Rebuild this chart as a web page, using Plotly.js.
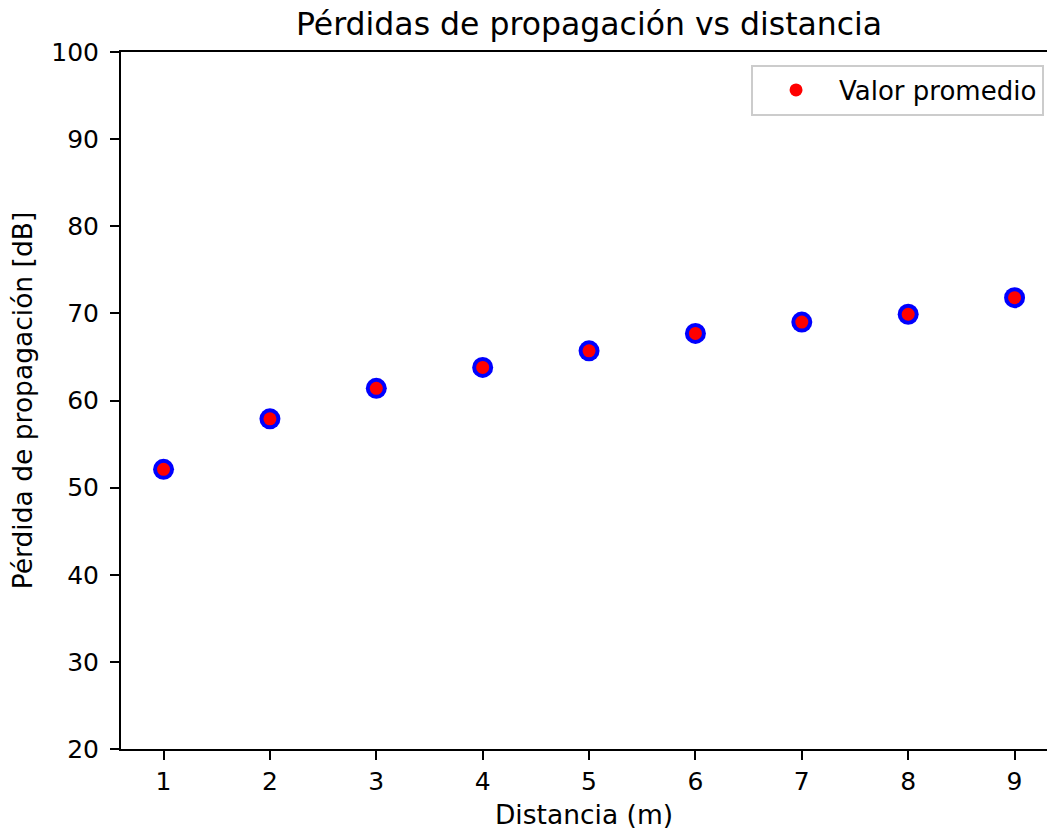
<!DOCTYPE html>
<html>
<head>
<meta charset="utf-8">
<script src="https://cdn.plot.ly/plotly-3.0.1.min.js"></script>
<style>
  html, body { margin: 0; padding: 0; background: #fff; overflow: hidden; }
  #chart { width: 1047px; height: 834px; }
</style>
</head>
<body>
<div id="chart"></div>
<script>
// Data
const distancia = [1, 2, 3, 4, 5, 6, 7, 8, 9];
const perdida = [52.1, 57.9, 61.4, 63.8, 65.7, 67.7, 69.0, 69.9, 71.8];
const xTicks = [1, 2, 3, 4, 5, 6, 7, 8, 9];
const yTicks = [20, 30, 40, 50, 60, 70, 80, 90, 100];

const chartTitle = 'Pérdidas de propagación vs distancia';
const xLabel = 'Distancia (m)';
const yLabel = 'Pérdida de propagación [dB]';
const legendLabel = 'Valor promedio';

const FONT = 'DejaVu Sans, Verdana, sans-serif';

const traces = [
  {
    x: distancia, y: perdida, type: 'scatter', mode: 'markers',
    marker: { color: 'blue', size: 21 },
    showlegend: false, hoverinfo: 'skip'
  },
  {
    x: distancia, y: perdida, type: 'scatter', mode: 'markers',
    name: legendLabel,
    marker: { color: 'red', size: 13 }
  }
];

const layout = {
  width: 1047, height: 834,
  margin: { l: 121, r: 0, t: 52, b: 85, pad: 0 },
  paper_bgcolor: '#fff', plot_bgcolor: '#fff',
  font: { family: FONT, size: 25, color: '#000' },
  title: {
    text: chartTitle,
    font: { family: FONT, size: 31.5, color: '#000' },
    x: 0.5626, xref: 'container', xanchor: 'center',
    y: 0.971, yref: 'container', yanchor: 'middle'
  },
  xaxis: {
    range: [0.6, 9.305],
    tickmode: 'array', tickvals: xTicks,
    ticks: 'outside', ticklen: 9, tickwidth: 2, tickcolor: '#000',
    showline: true, linewidth: 2, linecolor: '#000', mirror: true,
    showgrid: false, zeroline: false,
    tickfont: { family: FONT, size: 25, color: '#000' },
    title: { text: xLabel, font: { family: FONT, size: 26.5, color: '#000' }, standoff: 10 },
    automargin: false
  },
  yaxis: {
    range: [20, 100],
    tickmode: 'array', tickvals: yTicks,
    ticks: 'outside', ticklen: 9, tickwidth: 2, tickcolor: '#000',
    ticklabelstandoff: 6,
    showline: true, linewidth: 2, linecolor: '#000', mirror: false,
    showgrid: false, zeroline: false,
    tickfont: { family: FONT, size: 25, color: '#000' },
    title: { text: yLabel, font: { family: FONT, size: 26.5, color: '#000' }, standoff: 11 },
    automargin: false
  },
  showlegend: true,
  legend: {
    x: 0.9968, xanchor: 'right', y: 0.982, yanchor: 'top',
    bgcolor: '#fff', bordercolor: '#cccccc', borderwidth: 2,
    font: { family: FONT, size: 26, color: '#000' },
    itemwidth: 76
  }
};

Plotly.newPlot('chart', traces, layout, { displayModeBar: false, staticPlot: true });
</script>
</body>
</html>
